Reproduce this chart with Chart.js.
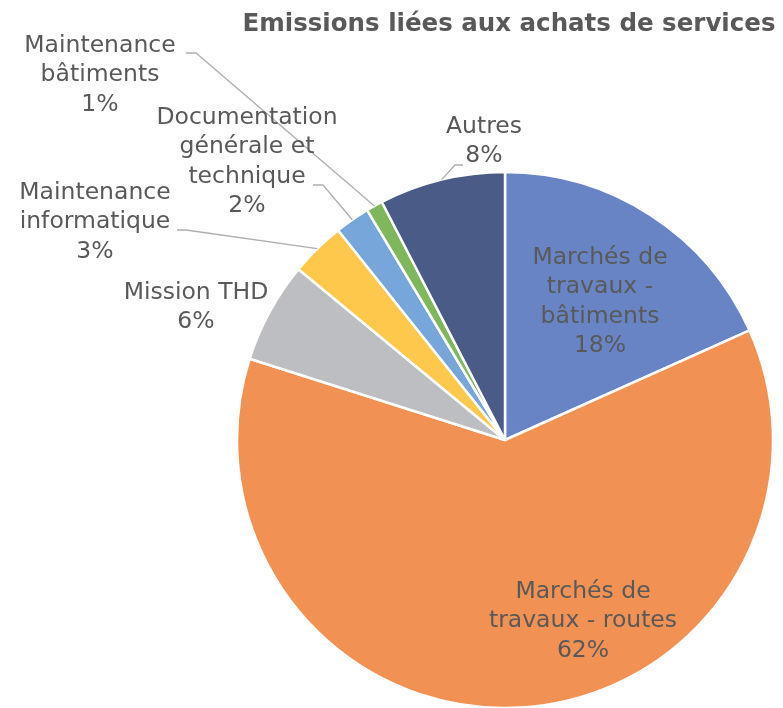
<!DOCTYPE html>
<html>
<head>
<meta charset="utf-8">
<script src="https://cdn.jsdelivr.net/npm/chart.js@4/dist/chart.umd.min.js"></script>
<style>
  html, body { margin: 0; padding: 0; background: #ffffff; }
  #wrap { width: 783px; height: 708px; position: relative; }
</style>
</head>
<body>
<div id="wrap"><canvas id="c" width="783" height="708"></canvas></div>
<script>
// ---- data ----
const categories = [
  "Marchés de travaux - bâtiments",
  "Marchés de travaux - routes",
  "Mission THD",
  "Maintenance informatique",
  "Documentation générale et technique",
  "Maintenance bâtiments",
  "Autres"
];
const values = [18.3, 61.6, 6.1, 3.3, 2.1, 1.0, 7.6];
const colors = ["#6884C5", "#F19154", "#BDBEC1", "#FEC84D", "#77A6DB", "#80B65C", "#4A5B87"];
const chartTitle = "Emissions liées aux achats de services";

// ---- label layout (text block centers, wrapped lines, leader start) ----
const labelLayout = [
  { lines: ["Marchés de", "travaux -", "bâtiments"], x: 600, y: 258 },
  { lines: ["Marchés de", "travaux - routes"], x: 583, y: 592 },
  { lines: ["Mission THD"], x: 196, y: 293 },
  { lines: ["Maintenance", "informatique"], x: 95, y: 193, leader: [[177, 230], [186, 230]] },
  { lines: ["Documentation", "générale et", "technique"], x: 247, y: 118, leader: [[313, 185], [323, 185]] },
  { lines: ["Maintenance", "bâtiments"], x: 100, y: 46, leader: [[186, 53], [196, 53]] },
  { lines: ["Autres"], x: 484, y: 127, leader: [[463, 165], [455, 165]] }
];

const FONT = '"DejaVu Sans", sans-serif';
const LINE_H = 29.3;

const labelPlugin = {
  id: 'pieLabels',
  afterDatasetsDraw(chart) {
    const ctx = chart.ctx;
    const meta = chart.getDatasetMeta(0);
    const data = chart.data.datasets[0].data;
    const total = data.reduce((a, b) => a + b, 0);
    ctx.save();
    // leader lines
    ctx.strokeStyle = '#AFAFAF';
    ctx.lineWidth = 1.3;
    meta.data.forEach((arc, i) => {
      const L = labelLayout[i];
      if (!L.leader) return;
      const p = arc.getProps(['x', 'y', 'startAngle', 'endAngle', 'outerRadius'], true);
      const mid = (p.startAngle + p.endAngle) / 2;
      const ex = p.x + Math.cos(mid) * p.outerRadius;
      const ey = p.y + Math.sin(mid) * p.outerRadius;
      ctx.beginPath();
      ctx.moveTo(L.leader[0][0], L.leader[0][1]);
      for (let k = 1; k < L.leader.length; k++) ctx.lineTo(L.leader[k][0], L.leader[k][1]);
      ctx.lineTo(ex, ey);
      ctx.stroke();
    });
    // texts
    ctx.fillStyle = '#595959';
    ctx.font = '23.5px ' + FONT;
    ctx.textAlign = 'center';
    ctx.textBaseline = 'middle';
    meta.data.forEach((arc, i) => {
      const L = labelLayout[i];
      const pct = Math.round(data[i] / total * 100) + '%';
      const lines = L.lines.concat([pct]);
      lines.forEach((t, k) => ctx.fillText(t, L.x, L.y + k * LINE_H));
    });
    // title
    ctx.font = 'bold 24.5px ' + FONT;
    ctx.fillText(chartTitle, 509, 25);
    ctx.restore();
  }
};

new Chart(document.getElementById('c'), {
  type: 'pie',
  data: {
    labels: categories,
    datasets: [{
      data: values,
      backgroundColor: colors,
      borderColor: '#ffffff',
      borderWidth: 2.5
    }]
  },
  options: {
    responsive: false,
    animation: false,
    radius: 268,
    layout: { padding: { left: 237, right: 10, top: 172, bottom: 0 } },
    plugins: {
      legend: { display: false },
      title: { display: false },
      tooltip: { enabled: false }
    }
  },
  plugins: [labelPlugin]
});
</script>
</body>
</html>
